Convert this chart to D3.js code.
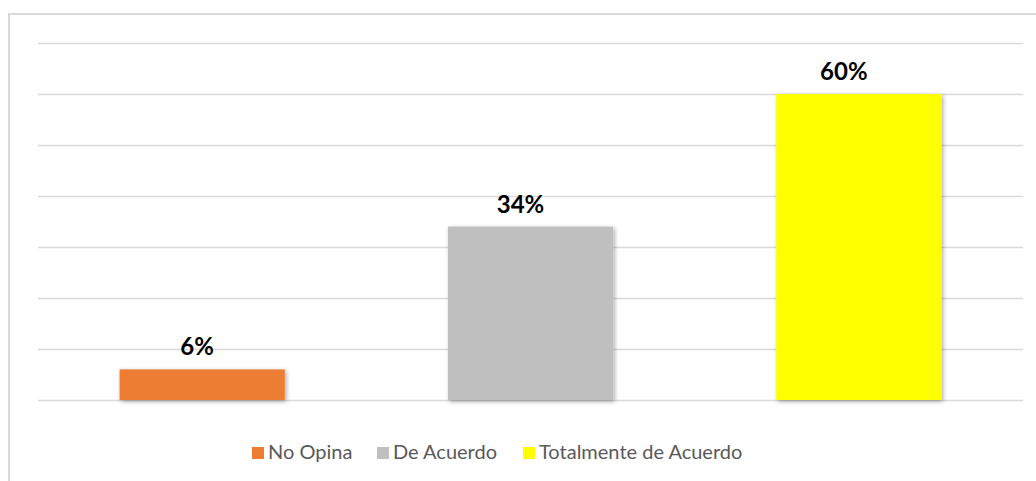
<!DOCTYPE html>
<html>
<head>
<meta charset="utf-8">
<script src="https://cdn.jsdelivr.net/npm/d3@7"></script>
<style>
  body { margin: 0; background: #fff; }
  svg { display: block; }
</style>
</head>
<body>
<svg id="chart"></svg>
<script>
var categories = ['No Opina', 'De Acuerdo', 'Totalmente de Acuerdo'];
var values = [0.06, 0.34, 0.60];
var colors = ['#ED7D31', '#BFBFBF', '#FFFF00'];
var yTicks = [0, 0.1, 0.2, 0.3, 0.4, 0.5, 0.6, 0.7];

var vWidth = 1036;
var vHeight = 481;
var margin = {top: 43, right: 13, bottom: 81, left: 38};

var svg = d3.select('#chart')
    .attr('width', vWidth)
    .attr('height', vHeight);

// shadow under the bars
var defs = svg.append('defs');
defs.append('filter')
    .attr('id', 'shadow')
    .attr('x', '-10%').attr('y', '-10%')
    .attr('width', '120%').attr('height', '130%')
  .append('feDropShadow')
    .attr('dx', 1.5).attr('dy', 1.5)
    .attr('stdDeviation', 2)
    .attr('flood-color', '#000')
    .attr('flood-opacity', 0.35);

// outer frame (top and left edges visible)
svg.append('path')
    .attr('d', 'M9,' + vHeight + 'V14H' + vWidth)
    .attr('fill', 'none')
    .attr('stroke', '#d9d9d9')
    .attr('stroke-width', 2);

var x = d3.scaleBand()
    .domain(categories)
    .range([margin.left, vWidth - margin.right])
    .paddingInner(0.497)
    .paddingOuter(0.2485);

var y = d3.scaleLinear()
    .domain([0, 0.7])
    .range([vHeight - margin.bottom, margin.top]);

// gridlines through a left axis with full-width ticks
var grid = svg.append('g')
    .attr('transform', 'translate(' + margin.left + ',0)')
    .call(d3.axisLeft(y)
        .tickValues(yTicks)
        .tickSize(-(vWidth - margin.left - margin.right))
        .tickFormat(''));
grid.select('.domain').remove();
grid.selectAll('.tick line')
    .attr('stroke', '#d9d9d9')
    .attr('stroke-width', 1.5);

var bars = svg.append('g');
bars.selectAll('rect')
    .data(values)
    .enter()
    .append('rect')
    .attr('x', function (d, i) { return x(categories[i]); })
    .attr('width', x.bandwidth())
    .attr('y', function (d) { return y(d); })
    .attr('height', function (d) { return y(0) - y(d); })
    .attr('fill', function (d, i) { return colors[i]; })
    .attr('filter', 'url(#shadow)');

bars.selectAll('text')
    .data(values)
    .enter()
    .append('text')
    .attr('x', function (d, i) { return x(categories[i]) + x.bandwidth() / 2 - 5 * (i + 1); })
    .attr('y', function (d) { return y(d) - 14; })
    .attr('text-anchor', 'middle')
    .style('font-family', 'Lato, "Open Sans", sans-serif')
    .style('font-weight', 'bold')
    .style('font-size', '24px')
    .style('fill', '#000')
    .text(function (d) { return d3.format('.0%')(d); });

// legend
var legend = svg.append('g')
    .attr('transform', 'translate(252,0)');
var legendX = [0, 125, 271];
var item = legend.selectAll('g')
    .data(categories)
    .enter()
    .append('g')
    .attr('transform', function (d, i) { return 'translate(' + legendX[i] + ',447)'; });
item.append('rect')
    .attr('width', 12)
    .attr('height', 12)
    .attr('fill', function (d, i) { return colors[i]; });
item.append('text')
    .attr('x', 16)
    .attr('y', 12)
    .style('font-family', 'Lato, "Open Sans", sans-serif')
    .style('font-size', '20px')
    .style('fill', '#595959')
    .text(function (d) { return d; });
</script>
</body>
</html>
